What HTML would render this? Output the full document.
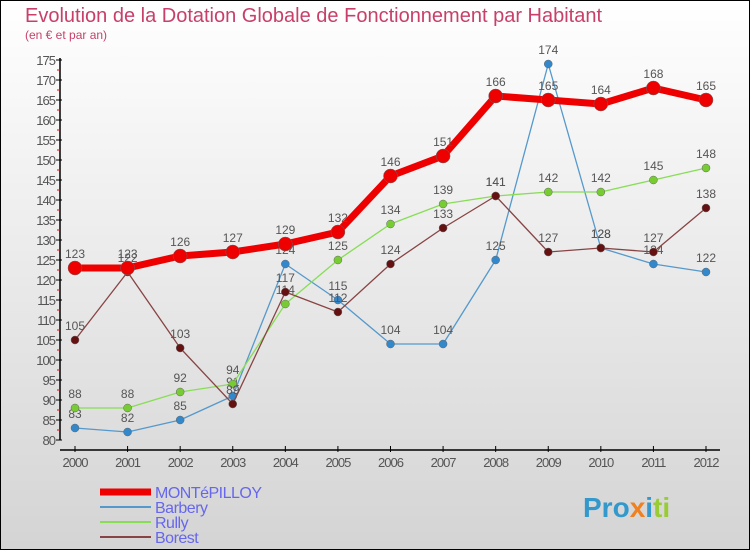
<!DOCTYPE html>
<html><head><meta charset="utf-8"><style>
body{margin:0;}
svg{display:block;font-family:"Liberation Sans",sans-serif;}
</style></head><body>
<svg width="750" height="550">
<defs><linearGradient id="bg" x1="0" y1="0" x2="0" y2="1"><stop offset="0" stop-color="#ffffff"/><stop offset="1" stop-color="#d4d4d4"/></linearGradient></defs>
<rect x="0.5" y="0.5" width="749" height="549" fill="url(#bg)" stroke="#000"/>
<text x="25" y="22" font-size="20" fill="#c8406a">Evolution de la Dotation Globale de Fonctionnement par Habitant</text>
<text x="25" y="39" font-size="12" fill="#c8406a">(en € et par an)</text>
<g id="axes"></g><g id="series"></g><g id="legend"></g>
<text x="583" y="517" font-size="28" font-weight="bold"><tspan fill="#3399cc">Pro</tspan><tspan fill="#f08020">x</tspan><tspan fill="#3399cc">i</tspan><tspan fill="#99cc33">ti</tspan></text>
</svg>
<script>
const years=[2000,2001,2002,2003,2004,2005,2006,2007,2008,2009,2010,2011,2012];
const montepilloy=[123,123,126,127,129,132,146,151,166,165,164,168,165];
const barbery=[83,82,85,91,124,115,104,104,125,174,128,124,122];
const rully=[88,88,92,94,114,125,134,139,141,142,142,145,148];
const borest=[105,122,103,89,117,112,124,133,141,127,128,127,138];
const yTicks=[80,85,90,95,100,105,110,115,120,125,130,135,140,145,150,155,160,165,170,175];
const NS="http://www.w3.org/2000/svg";
function X(i){return 75+i*(706-75)/12;}
function Y(v){return 440-(v-80)*4;}
function mk(t,a,p){const e=document.createElementNS(NS,t);for(const k in a)e.setAttribute(k,a[k]);p.appendChild(e);return e;}
const ax=document.getElementById('axes');
const yl=mk('line',{x1:60,y1:58,x2:60,y2:440,stroke:'#000','stroke-width':1.5},ax);


const xl=mk('line',{x1:60,y1:450,x2:720,y2:450,stroke:'#000','stroke-width':1.5},ax);


yTicks.forEach(v=>{
 mk('line',{x1:56,y1:Y(v),x2:62,y2:Y(v),stroke:'#000'},ax);
 if(v<175)mk('line',{x1:57,y1:Y(v+2.5),x2:60,y2:Y(v+2.5),stroke:'#e00'},ax);
 const t=mk('text',{x:55,y:Y(v)+5,'text-anchor':'end','font-size':13,fill:'#555','letter-spacing':'-1'},ax);
 t.textContent=v;
 
 
});
years.forEach((yr,i)=>{
 mk('line',{x1:X(i),y1:446,x2:X(i),y2:452,stroke:'#000'},ax);
 const t=mk('text',{x:X(i),y:467,'text-anchor':'middle','font-size':13,fill:'#555','letter-spacing':'-1'},ax);
 t.textContent=yr;
 
 
});
const sg=document.getElementById('series');
const series=[
 {name:'barbery',data:barbery,c:'#5599cc',w:1.3,r:4,dot:'#3388cc'},
 {name:'rully',data:rully,c:'#88dd55',w:1.3,r:4,dot:'#77cc33'},
 {name:'borest',data:borest,c:'#884444',w:1.3,r:4,dot:'#661111'},
 {name:'montepilloy',data:montepilloy,c:'#ee0000',w:7,r:7,dot:'#ee0000'}];
series.forEach(s=>{
 const g=mk('g',{},sg);
 
 
 const pl=mk('polyline',{points:s.data.map((v,i)=>X(i)+','+Y(v)).join(' '),fill:'none',stroke:s.c,'stroke-width':s.w,'stroke-linejoin':'round'},g);
 
 
 s.data.forEach((v,i)=>{
  const c=mk('circle',{cx:X(i),cy:Y(v),r:s.r,fill:s.dot,stroke:'#666','stroke-width':0.5},g);
  
  
  const t=mk('text',{x:X(i),y:Y(v)-10,'text-anchor':'middle','font-size':12,fill:'#555'},g);
  t.textContent=v;
  
  
 });
});
const lg=document.getElementById('legend');
const leg=[['MONTéPILLOY','#ee0000',7],['Barbery','#5599cc',2],['Rully','#88dd55',2],['Borest','#884444',2]];
leg.forEach((l,i)=>{
 const y=492+i*15;
 const g=mk('g',{},lg);
 
 
 mk('line',{x1:100,y1:y,x2:151,y2:y,stroke:l[1],'stroke-width':l[2]},g);
 const t=mk('text',{x:155,y:y+6,'font-size':16,fill:'#6666ee','letter-spacing':'-0.5'},g);
 t.textContent=l[0];
});
</script>
</body></html>
